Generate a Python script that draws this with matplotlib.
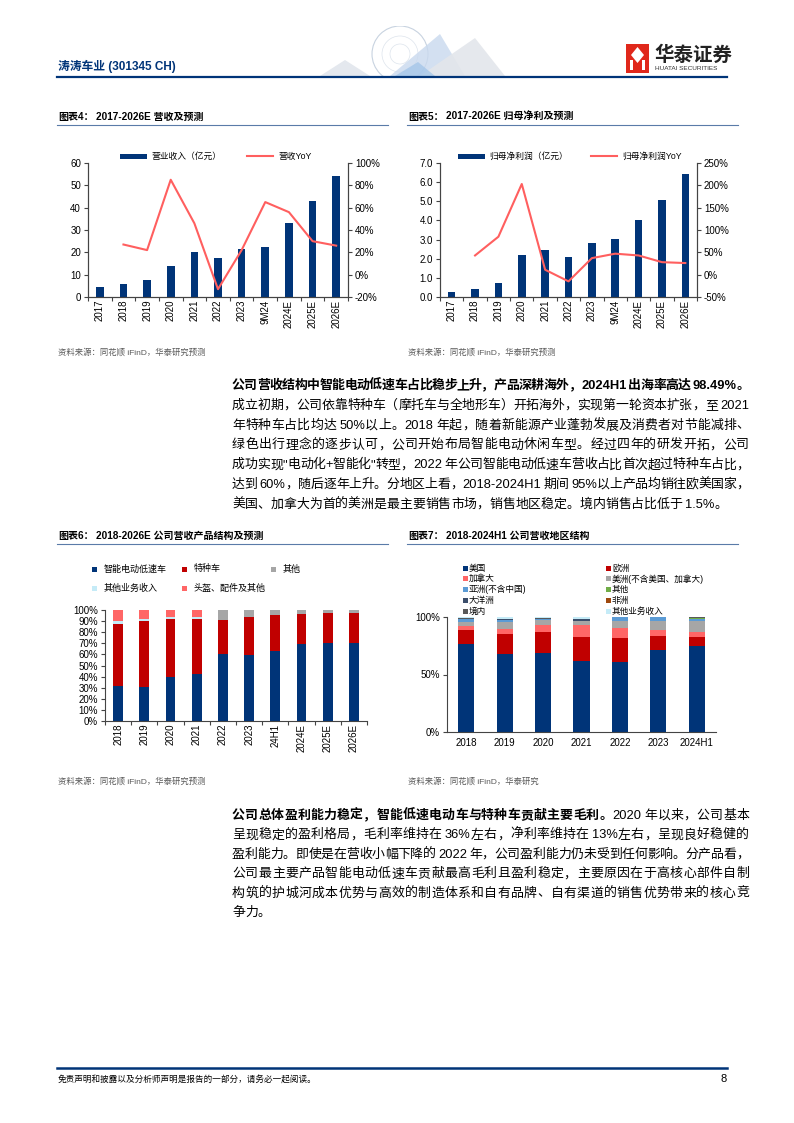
import re
import numpy as np
import matplotlib
matplotlib.use("Agg")
import matplotlib.pyplot as plt
from matplotlib.patches import Rectangle, Polygon, Circle
from matplotlib.lines import Line2D
from matplotlib.ticker import FuncFormatter, MultipleLocator, FixedLocator

plt.rcParams['font.family'] = ['Liberation Sans', 'Noto Sans CJK SC']
plt.rcParams['axes.unicode_minus'] = False

W, H = 794, 1123
NAVY = '#003478'
RED = '#C00000'
PINK = '#FF6666'
GRAY = '#A6A6A6'
LIGHTBLUE = '#C5EBF7'
TXT = '#000000'

# ---- 图表4 / 图表5 数据
years4 = ['2017', '2018', '2019', '2020', '2021', '2022', '2023', '9M24', '2024E', '2025E', '2026E']
revenue = [4.7, 6.0, 7.4, 13.8, 20.1, 17.6, 21.4, 22.2, 33.3, 43.2, 54.4]
revenue_yoy = [np.nan, 27, 22, 85, 46, -13, 22, 65, 56, 30, 26]
profit = [0.27, 0.40, 0.71, 2.18, 2.43, 2.07, 2.81, 3.02, 4.00, 5.08, 6.42]
profit_yoy = [np.nan, 43, 85, 203, 11, -15, 37, 47, 43, 28, 26]

# ---- 图表6 数据 (%)
years6 = ['2018', '2019', '2020', '2021', '2022', '2023', '24H1', '2024E', '2025E', '2026E']
prod_labels = ['智能电动低速车', '特种车', '其他业务收入', '头盔、配件及其他', '其他']
share_lsv = [31.8, 30.9, 39.9, 42.0, 60.0, 59.5, 63.4, 69.0, 70.5, 70.0]
share_special = [55.5, 59.1, 52.0, 50.0, 31.0, 34.5, 32.1, 27.4, 26.8, 27.6]
share_otherbiz = [3.0, 1.8, 1.8, 1.5, 0, 0, 0, 0, 0, 0]
share_helmet = [9.7, 8.2, 6.3, 6.5, 0, 0, 0, 0, 0, 0]
share_other = [0, 0, 0, 0, 9.0, 6.0, 4.5, 3.6, 2.7, 2.4]

# ---- 图表7 数据 (%)
years7 = ['2018', '2019', '2020', '2021', '2022', '2023', '2024H1']
region_labels = ['美国', '欧洲', '加拿大', '美洲(不含美国、加拿大)', '亚洲(不含中国)',
                 '其他', '大洋洲', '非洲', '境内', '其他业务收入']
reg_us = [76.4, 67.7, 68.6, 62.0, 61.1, 71.2, 74.4]
reg_europe = [12.1, 17.3, 18.2, 20.4, 20.7, 12.4, 8.3]
reg_canada = [3.7, 4.6, 6.6, 10.4, 8.7, 5.4, 4.3]
reg_americas = [3.5, 6.1, 3.6, 3.5, 5.7, 7.5, 9.5]
reg_asia = [2.3, 2.0, 1.3, 0.6, 3.8, 3.5, 1.5]
reg_other = [0, 0, 0, 0, 0, 0, 1.0]
reg_oceania = [0.5, 0.3, 0.2, 1.0, 0, 0, 0.3]
reg_africa = [0, 0, 0, 0, 0, 0, 0]
reg_domestic = [0.2, 0.2, 0.2, 0.6, 0, 0, 0.7]
reg_otherbiz = [1.3, 1.8, 1.3, 1.5, 0, 0, 0]
region_colors = [NAVY, RED, PINK, GRAY, '#5B9BD5', '#70AD47', '#3B4E6B', '#9E480E', '#595959', LIGHTBLUE]

para1 = [
    [("公司营收结构中智能电动低速车占比稳步上升，产品深耕海外，2024H1 出海率高达 98.49%。", 'bold')],
    [("成立初期，公司依靠特种车（摩托车与全地形车）开拓海外，实现第一轮资本扩张，至 2021", 'normal')],
    [("年特种车占比均达 50%以上。2018 年起，随着新能源产业蓬勃发展及消费者对节能减排、", 'normal')],
    [("绿色出行理念的逐步认可，公司开始布局智能电动休闲车型。经过四年的研发开拓，公司", 'normal')],
    [("成功实现\"电动化+智能化\"转型，2022 年公司智能电动低速车营收占比首次超过特种车占比，", 'normal')],
    [("达到 60%，随后逐年上升。分地区上看，2018-2024H1 期间 95%以上产品均销往欧美国家，", 'normal')],
    [("美国、加拿大为首的美洲是最主要销售市场，销售地区稳定。境内销售占比低于 1.5%。", 'normal')],
]
para2 = [
    [("公司总体盈利能力稳定，智能低速电动车与特种车贡献主要毛利。", 'bold'), ("2020 年以来，公司基本", 'normal')],
    [("呈现稳定的盈利格局，毛利率维持在 36%左右，净利率维持在 13%左右，呈现良好稳健的", 'normal')],
    [("盈利能力。即使是在营收小幅下降的 2022 年，公司盈利能力仍未受到任何影响。分产品看，", 'normal')],
    [("公司最主要产品智能电动低速车贡献最高毛利且盈利稳定，主要原因在于高核心部件自制", 'normal')],
    [("构筑的护城河成本优势与高效的制造体系和自有品牌、自有渠道的销售优势带来的核心竞", 'normal')],
    [("争力。", 'normal')],
]

fig = plt.figure(figsize=(W / 100, H / 100), dpi=100)
renderer = fig.canvas.get_renderer()


def fx(x):
    return x / W


def fy(y):
    return 1 - y / H


def ax_px(l, t, r, b):
    return fig.add_axes([fx(l), fy(b), (r - l) / W, (b - t) / H])


def hline(x0, x1, y, color, lw):
    fig.add_artist(Line2D([fx(x0), fx(x1)], [fy(y), fy(y)], color=color, lw=lw))


def put_line(x0, x1, y, runs, size=9.3, justify=True):
    toks = []
    for s, w in runs:
        for t in re.findall(r'[A-Za-z0-9.%+\-"]+| |.', s):
            toks.append((t, w))
    items = []
    total = 0
    for t, w in toks:
        if t == ' ':
            items.append((None, 2.5))
            total += 2.5
            continue
        txt = fig.text(0, fy(y), t, fontsize=size, fontweight=w, color=TXT, va='center', ha='left')
        wd = txt.get_window_extent(renderer).width
        items.append((txt, wd))
        total += wd
    gap = (x1 - x0 - total) / (len(items) - 1) if (justify and len(items) > 1) else 0
    x = x0
    for txt, wd in items:
        if txt is not None:
            txt.set_x(fx(x))
        x += wd + gap


# ---------------- 页眉
fig.text(fx(58), fy(66), '涛涛车业 (301345 CH)', fontsize=8.5, fontweight='bold', color=NAVY, va='center')
hline(57, 727, 77, NAVY, 1.6)
# 页眉装饰图形（地球与山形）
deco = fig.add_axes([fx(300), fy(76), 220 / W, 50 / H])
deco.set_xlim(0, 220)
deco.set_ylim(0, 50)
deco.axis('off')
deco.add_patch(Circle((100, 22), 28, fill=False, ec='#C8D3E0', lw=0.8))
for r in [10, 18]:
    deco.add_patch(Circle((100, 22), r, fill=False, ec='#DDE4EC', lw=0.5))
deco.add_patch(Polygon([[20, 0], [45, 16], [70, 0]], closed=True, fc='#E4E8EE', ec='none'))
deco.add_patch(Polygon([[90, 0], [140, 42], [165, 0]], closed=True, fc='#C9D9EE', ec='none', alpha=0.8))
deco.add_patch(Polygon([[120, 0], [175, 38], [205, 0]], closed=True, fc='#E3E6EB', ec='none', alpha=0.9))
deco.add_patch(Polygon([[95, 0], [118, 14], [135, 0]], closed=True, fc='#9FC3E8', ec='none', alpha=0.7))

# logo
logo = fig.add_axes([fx(626), fy(73), 23 / W, 29 / H])
logo.set_xlim(0, 23)
logo.set_ylim(0, 29)
logo.axis('off')
logo.add_patch(Rectangle((0, 0), 23, 29, fc='#E0281B', ec='none'))
logo.add_patch(Polygon([[11.5, 26], [18, 18], [11.5, 10], [5, 18]], closed=True, fc='white', ec='none'))
logo.add_patch(Rectangle((4, 3), 3, 10, fc='white', ec='none'))
logo.add_patch(Rectangle((16, 3), 3, 10, fc='white', ec='none'))
fig.text(fx(654), fy(55), '华泰证券', fontsize=14, fontweight='bold', color='#222222', va='center')
fig.text(fx(655), fy(69), 'HUATAI SECURITIES', fontsize=4.6, color='#333333', va='center')


# ---------------- 图表标题
def chart_title(x0, x1, y, label, rest):
    t = fig.text(fx(x0), fy(y), label, fontsize=7.2, fontweight='bold', va='center')
    wd = t.get_window_extent(renderer).width
    fig.text(fx(x0 + wd + 2), fy(y), rest, fontsize=7.2, fontweight='bold', va='center')
    hline(x0 - 1, x1, y + 8, '#5A7BA8', 0.8)


chart_title(58, 388, 117, '图表4：', '2017-2026E 营收及预测')
chart_title(408, 738, 117, '图表5：', '2017-2026E 归母净利及预测')
chart_title(58, 388, 536, '图表6：', '2018-2026E 公司营收产品结构及预测')
chart_title(408, 738, 536, '图表7：', '2018-2024H1 公司营收地区结构')

src_kw = dict(fontsize=6, color='#595959', va='center')
fig.text(fx(58), fy(352), '资料来源：同花顺 iFinD，华泰研究预测', **src_kw)
fig.text(fx(408), fy(352), '资料来源：同花顺 iFinD，华泰研究预测', **src_kw)
fig.text(fx(58), fy(781), '资料来源：同花顺 iFinD，华泰研究预测', **src_kw)
fig.text(fx(408), fy(781), '资料来源：同花顺 iFinD，华泰研究', **src_kw)


def style_axes(ax, minor_x=True):
    ax.spines['top'].set_visible(False)
    for s in ax.spines.values():
        s.set_color('#444444')
        s.set_linewidth(0.8)
    ax.tick_params(axis='both', labelsize=7, length=3, width=0.8, color='#444444', pad=2)
    ax.tick_params(axis='x', length=0)
    if minor_x:
        n = len(ax.get_xticks())
        ax.xaxis.set_minor_locator(FixedLocator(np.arange(-0.5, n, 1.0)))
        ax.tick_params(axis='x', which='minor', length=3, width=0.8, color='#444444')


# ---------------- 图表4 / 图表5
def bar_line_chart(l, t, r, b, vals, yoy, ymax, ystep, yfmt, rmin, rmax, rstep, bar_label, line_label, leg_x):
    ax = ax_px(l, t, r, b)
    x = np.arange(len(years4))
    ax.bar(x, vals, width=0.32, color=NAVY, zorder=2)
    ax.set_xlim(-0.5, len(years4) - 0.5)
    ax.set_ylim(0, ymax)
    ax.yaxis.set_major_locator(MultipleLocator(ystep))
    ax.yaxis.set_major_formatter(FuncFormatter(yfmt))
    ax.set_xticks(x)
    ax.set_xticklabels(years4, rotation=90, fontsize=7)
    style_axes(ax)
    ax2 = ax.twinx()
    ax2.plot(x, yoy, color='#FF5F5F', lw=1.5, zorder=3)
    ax2.set_ylim(rmin, rmax)
    ax2.yaxis.set_major_locator(MultipleLocator(rstep))
    ax2.yaxis.set_major_formatter(FuncFormatter(lambda v, p: '%d%%' % round(v)))
    ax2.spines['top'].set_visible(False)
    for s in ax2.spines.values():
        s.set_color('#444444')
        s.set_linewidth(0.8)
    ax2.tick_params(axis='y', labelsize=7, length=3, width=0.8, color='#444444', pad=2)
    # legend
    ly = t - 7
    fig.add_artist(Rectangle((fx(leg_x[0]), fy(ly + 2.5)), 27 / W, 5 / H, fc=NAVY, ec='none'))
    fig.text(fx(leg_x[0] + 31), fy(ly), bar_label, fontsize=6.3, va='center')
    hline(leg_x[1], leg_x[1] + 26, ly, '#FF5F5F', 1.5)
    fig.text(fx(leg_x[1] + 31), fy(ly), line_label, fontsize=6.3, va='center')
    return ax


bar_line_chart(88, 163, 348, 297, revenue, revenue_yoy, 60, 10, lambda v, p: '%d' % v,
               -20, 100, 20, '营业收入（亿元）', '营收YoY', (120, 247))
bar_line_chart(440, 163, 697, 297, profit, profit_yoy, 7, 1, lambda v, p: '%.1f' % v,
               -50, 250, 50, '归母净利润（亿元）', '归母净利润YoY', (458, 591))

# ---------------- 图表6
ax6 = ax_px(105, 610, 367, 721)
x6 = np.arange(len(years6))
bottom = np.zeros(len(years6))
series6 = [share_lsv, share_special, share_otherbiz, share_helmet, share_other]
colors6 = [NAVY, RED, LIGHTBLUE, PINK, GRAY]
for vals, c in zip(series6, colors6):
    v = np.array(vals) / 100
    ax6.bar(x6, v, bottom=bottom, width=0.38, color=c, zorder=2)
    bottom += v
ax6.set_xlim(-0.5, len(years6) - 0.5)
ax6.set_ylim(0, 1)
ax6.yaxis.set_major_locator(MultipleLocator(0.1))
ax6.yaxis.set_major_formatter(FuncFormatter(lambda v, p: '%d%%' % round(v * 100)))
ax6.set_xticks(x6)
ax6.set_xticklabels(years6, rotation=90, fontsize=7)
style_axes(ax6)
ax6.spines['right'].set_visible(False)

leg6 = [(94, 569, NAVY, prod_labels[0]), (184, 569, RED, prod_labels[1]), (273, 569, GRAY, prod_labels[4]),
        (94, 588, LIGHTBLUE, prod_labels[2]), (184, 588, PINK, prod_labels[3])]
for lx, ly, c, lab in leg6:
    fig.add_artist(Rectangle((fx(lx - 2.5), fy(ly + 2.5)), 5 / W, 5 / H, fc=c, ec='none'))
    fig.text(fx(lx + 10), fy(ly), lab, fontsize=6.5, va='center')

# ---------------- 图表7
ax7 = ax_px(447, 617, 716, 732)
x7 = np.arange(len(years7))
bottom = np.zeros(len(years7))
series7 = [reg_us, reg_europe, reg_canada, reg_americas, reg_asia, reg_other,
           reg_oceania, reg_africa, reg_domestic, reg_otherbiz]
for vals, c in zip(series7, region_colors):
    v = np.array(vals) / 100
    ax7.bar(x7, v, bottom=bottom, width=0.42, color=c, zorder=2)
    bottom += v
ax7.set_xlim(-0.5, len(years7) - 0.5)
ax7.set_ylim(0, 1)
ax7.set_yticks([0, 0.5, 1.0])
ax7.set_yticklabels(['0%', '50%', '100%'])
ax7.set_xticks(x7)
ax7.set_xticklabels(years7, fontsize=6.8)
style_axes(ax7, minor_x=False)
ax7.spines['right'].set_visible(False)
ax7.tick_params(axis='x', pad=4)

for i, (lab, c) in enumerate(zip(region_labels, region_colors)):
    col, row = i % 2, i // 2
    lx = 465 if col == 0 else 608
    ly = 568 + row * 10.8
    fig.add_artist(Rectangle((fx(lx - 2.5), fy(ly + 2.5)), 5 / W, 5 / H, fc=c, ec='none'))
    fig.text(fx(lx + 4), fy(ly), lab, fontsize=6.2, va='center')

# ---------------- 正文
for i, runs in enumerate(para1):
    put_line(232, 749, 386 + 19.8 * i, runs, justify=(i < len(para1) - 1))
for i, runs in enumerate(para2):
    put_line(232, 749, 816 + 19.4 * i, runs, justify=(i < len(para2) - 1))

# ---------------- 页脚
hline(57, 727, 1068, NAVY, 1.8)
fig.text(fx(58), fy(1079), '免责声明和披露以及分析师声明是报告的一部分，请务必一起阅读。', fontsize=6.2,
         style='italic', va='center')
fig.text(fx(727), fy(1079), '8', fontsize=8, ha='right', va='center')

fig.savefig('out.png', dpi=100)
